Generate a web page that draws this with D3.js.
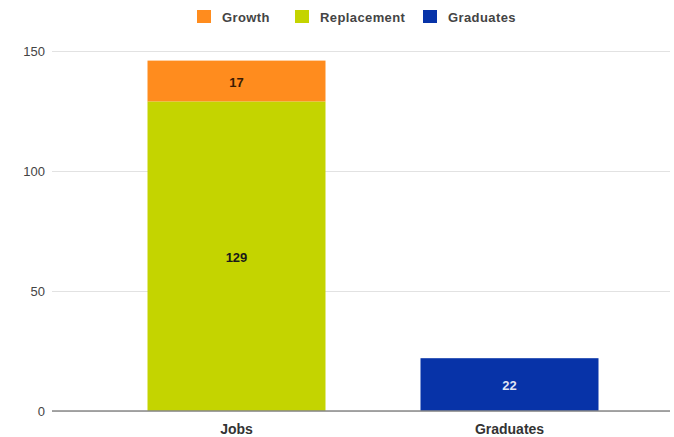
<!DOCTYPE html>
<meta charset="utf-8">
<head>
    <title>Jobs vs Graduates</title>
    <script src="https://d3js.org/d3.v7.min.js"></script>
    <style>
        body { margin: 0; background: #ffffff; font-family: "Liberation Sans", Arial, sans-serif; }
    </style>
</head>
<body>
<div id="my_dataviz"></div>
<script>

// chart data
var categories = ["Jobs", "Graduates"];
var seriesNames = ["Growth", "Replacement", "Graduates"];
var replacement = [129, 0];
var growth = [17, 0];
var graduates = [0, 22];
var yTicks = [0, 50, 100, 150];

var colors = {"Growth": "#ff8c1e", "Replacement": "#c4d400", "Graduates": "#0733a8"};

var width = 674, height = 437;

var svg = d3.select("#my_dataviz")
    .append("svg")
    .attr("width", width)
    .attr("height", height);

// scales
var x = d3.scaleBand()
    .domain(categories)
    .range([100, 646])
    .paddingInner(0.348)
    .paddingOuter(0.174);

var y = d3.scaleLinear()
    .domain([0, 150])
    .range([411, 51]);

// gridlines + y labels
var yAxis = svg.append("g")
    .attr("transform", "translate(52,0)")
    .call(d3.axisLeft(y).tickValues(yTicks).tickSize(-618).tickPadding(8));
yAxis.select(".domain").remove();
yAxis.selectAll(".tick line").attr("stroke", "#e2e2e2");
yAxis.selectAll(".tick text")
    .style("font-size", "13px")
    .style("fill", "#444")
    .attr("x", -7);

// stacked data
var rows = categories.map(function(c, i) {
    return {cat: c, Replacement: replacement[i], Growth: growth[i], Graduates: graduates[i]};
});
var stack = d3.stack().keys(["Replacement", "Growth", "Graduates"]);
var layers = stack(rows);

layers.forEach(function(layer) {
    var key = layer.key;
    var g = svg.append("g");
    g.selectAll("rect")
        .data(layer.filter(function(d) { return d[1] - d[0] > 0; }))
        .enter()
        .append("rect")
            .attr("x", function(d) { return x(d.data.cat); })
            .attr("width", x.bandwidth())
            .attr("y", function(d) { return y(d[1]); })
            .attr("height", function(d) { return y(d[0]) - y(d[1]); })
            .style("fill", colors[key]);
    g.selectAll("text")
        .data(layer.filter(function(d) { return d[1] - d[0] > 0; }))
        .enter()
        .append("text")
            .attr("x", function(d) { return x(d.data.cat) + x.bandwidth() / 2; })
            .attr("y", function(d) { return (y(d[0]) + y(d[1])) / 2 + 1; })
            .attr("text-anchor", "middle")
            .attr("dominant-baseline", "central")
            .style("font-size", "13px")
            .style("font-weight", "bold")
            .style("fill", key == "Graduates" ? "#dfe4f4" : (key == "Growth" ? "#3a1c05" : "#1a1a1a"))
            .text(function(d) { return d[1] - d[0]; });
});

// baseline
svg.append("line")
    .attr("x1", 52).attr("x2", 670)
    .attr("y1", y(0)).attr("y2", y(0))
    .attr("stroke", "#888")
    .attr("stroke-width", 1.5);

// x labels
var xAxis = svg.append("g")
    .attr("transform", "translate(0," + y(0) + ")")
    .call(d3.axisBottom(x).tickSize(0).tickPadding(13));
xAxis.select(".domain").remove();
xAxis.selectAll(".tick text")
    .style("font-size", "14px")
    .style("font-weight", "bold")
    .style("fill", "#333");

// legend
var legendX = [197, 295, 423];
var legend = svg.append("g");
seriesNames.forEach(function(name, i) {
    legend.append("rect")
        .attr("x", legendX[i]).attr("y", 10)
        .attr("width", 14).attr("height", 13)
        .style("fill", colors[name]);
    legend.append("text")
        .attr("x", legendX[i] + 25).attr("y", 17)
        .attr("dominant-baseline", "central")
        .style("font-size", "13px")
        .style("font-weight", "bold")
        .style("letter-spacing", "0.4px")
        .style("fill", "#444")
        .text(name);
});

</script>
</body>
</html>
